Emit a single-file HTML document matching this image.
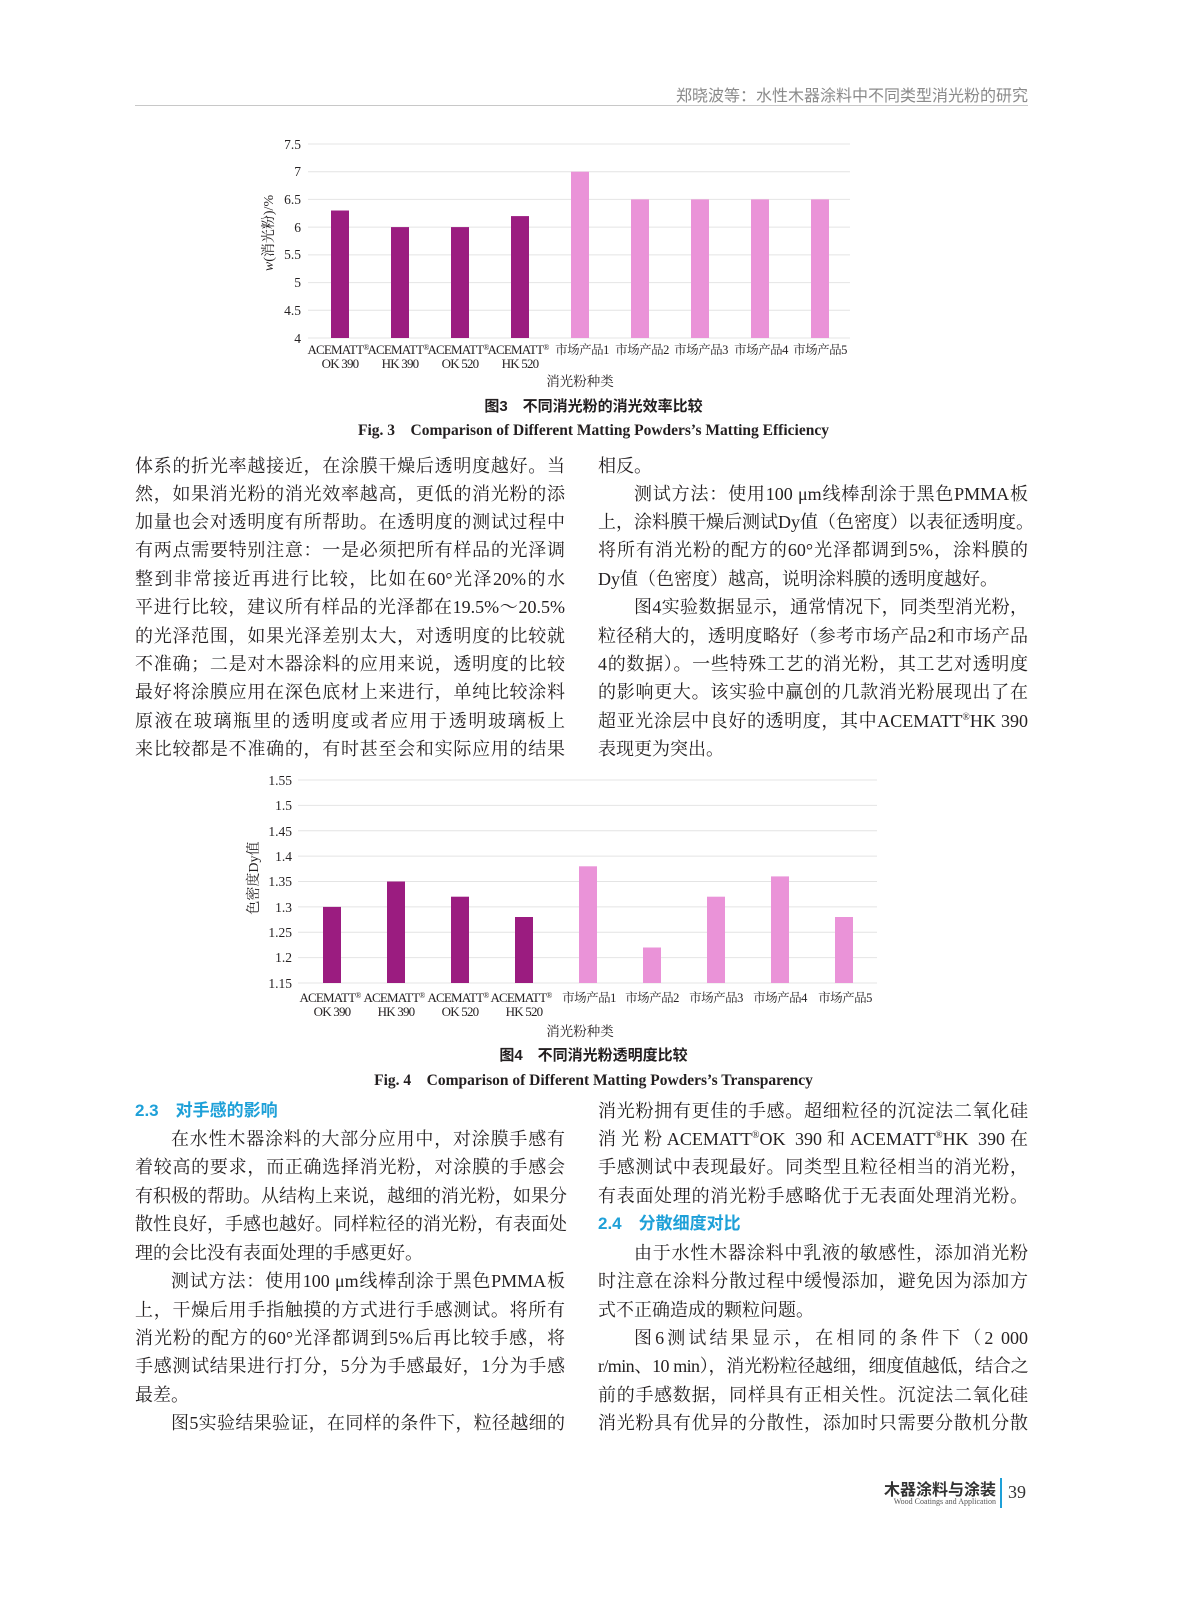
<!DOCTYPE html>
<html><head><meta charset="utf-8">
<style>
body{margin:0;background:#fff;}
#p{position:relative;width:1187px;height:1600px;overflow:hidden;background:#fff;}
.t{position:absolute;height:28px;line-height:28px;font-family:"Liberation Serif","Noto Serif CJK SC",serif;font-size:18px;color:#231f20;white-space:nowrap;text-align:justify;text-align-last:justify;}
.L{left:135px;width:430px;}
.R{left:598px;width:430px;}
.e{text-align-last:left;}
.i{text-indent:36px;}
.h{font-family:"Liberation Sans","Noto Sans CJK SC",sans-serif;font-weight:bold;color:#1ea0d8;text-align-last:left;font-size:17px;}
.c{position:absolute;left:0;width:1187px;text-align:center;color:#231f20;font-weight:bold;}
sup{font-size:10px;line-height:0;}
svg text{font-family:"Liberation Serif","Noto Serif CJK SC",serif;fill:#231f20;}
</style></head><body><div id="p">
<div style="position:absolute;right:159px;top:82px;font-family:'Liberation Sans','Noto Sans CJK SC',sans-serif;font-size:16px;color:#8a8a8a;">郑晓波等：水性木器涂料中不同类型消光粉的研究</div>
<div style="position:absolute;left:135px;top:105px;width:893px;height:1px;background:#c8c8c8;"></div>

<svg width="1187" height="1600" style="position:absolute;left:0;top:0">
<g stroke="#e4e4e4" stroke-width="1">
<line x1="308" x2="850" y1="144" y2="144"/><line x1="308" x2="850" y1="171.7" y2="171.7"/><line x1="308" x2="850" y1="199.4" y2="199.4"/><line x1="308" x2="850" y1="227.1" y2="227.1"/><line x1="308" x2="850" y1="254.9" y2="254.9"/><line x1="308" x2="850" y1="282.6" y2="282.6"/><line x1="308" x2="850" y1="310.3" y2="310.3"/><line x1="308" x2="850" y1="338" y2="338"/>
</g>
<g font-size="13.5" text-anchor="end">
<text x="301" y="149">7.5</text><text x="301" y="176">7</text><text x="301" y="204">6.5</text><text x="301" y="232">6</text><text x="301" y="259">5.5</text><text x="301" y="287">5</text><text x="301" y="315">4.5</text><text x="301" y="343">4</text>
</g>
<g fill="#9b1c80"><rect x="331" y="210.5" width="18" height="127.5"/><rect x="391" y="227.1" width="18" height="110.9"/><rect x="451" y="227.1" width="18" height="110.9"/><rect x="511" y="216.1" width="18" height="121.9"/></g>
<g fill="#ea93d8"><rect x="571" y="171.7" width="18" height="166.3"/><rect x="631" y="199.4" width="18" height="138.6"/><rect x="691" y="199.4" width="18" height="138.6"/><rect x="751" y="199.4" width="18" height="138.6"/><rect x="811" y="199.4" width="18" height="138.6"/></g>
<g font-size="13" text-anchor="middle" letter-spacing="-0.8">
<text x="338" y="354">ACEMATT<tspan font-size="8" dy="-4">®</tspan></text><text x="398" y="354">ACEMATT<tspan font-size="8" dy="-4">®</tspan></text><text x="458" y="354">ACEMATT<tspan font-size="8" dy="-4">®</tspan></text><text x="518" y="354">ACEMATT<tspan font-size="8" dy="-4">®</tspan></text>
<text x="340" y="368">OK 390</text><text x="400" y="368">HK 390</text><text x="460" y="368">OK 520</text><text x="520" y="368">HK 520</text>
</g>
<g font-size="12.5" text-anchor="middle" letter-spacing="-0.5">
<text x="582" y="354">市场产品1</text><text x="642" y="354">市场产品2</text><text x="701" y="354">市场产品3</text><text x="761" y="354">市场产品4</text><text x="820" y="354">市场产品5</text>
</g>
<text x="580" y="386" font-size="13.5" text-anchor="middle">消光粉种类</text>
<text transform="translate(273,233) rotate(-90)" font-size="14" text-anchor="middle"><tspan font-style="italic">w</tspan>(消光粉)/%</text>

<g stroke="#e4e4e4" stroke-width="1">
<line x1="298" x2="877" y1="780" y2="780"/><line x1="298" x2="877" y1="805.4" y2="805.4"/><line x1="298" x2="877" y1="830.8" y2="830.8"/><line x1="298" x2="877" y1="856.1" y2="856.1"/><line x1="298" x2="877" y1="881.5" y2="881.5"/><line x1="298" x2="877" y1="906.9" y2="906.9"/><line x1="298" x2="877" y1="932.3" y2="932.3"/><line x1="298" x2="877" y1="957.6" y2="957.6"/><line x1="298" x2="877" y1="983" y2="983"/>
</g>
<g font-size="13.5" text-anchor="end">
<text x="292" y="785">1.55</text><text x="292" y="810">1.5</text><text x="292" y="836">1.45</text><text x="292" y="861">1.4</text><text x="292" y="886">1.35</text><text x="292" y="912">1.3</text><text x="292" y="937">1.25</text><text x="292" y="962">1.2</text><text x="292" y="988">1.15</text>
</g>
<g fill="#9b1c80"><rect x="323" y="906.9" width="18" height="76.1"/><rect x="387" y="881.5" width="18" height="101.5"/><rect x="451" y="896.7" width="18" height="86.3"/><rect x="515" y="917" width="18" height="66"/></g>
<g fill="#ea93d8"><rect x="579" y="866.3" width="18" height="116.7"/><rect x="643" y="947.5" width="18" height="35.5"/><rect x="707" y="896.7" width="18" height="86.3"/><rect x="771" y="876.4" width="18" height="106.6"/><rect x="835" y="917" width="18" height="66"/></g>
<g font-size="13" text-anchor="middle" letter-spacing="-0.8">
<text x="330" y="1002">ACEMATT<tspan font-size="8" dy="-4">®</tspan></text><text x="394" y="1002">ACEMATT<tspan font-size="8" dy="-4">®</tspan></text><text x="458" y="1002">ACEMATT<tspan font-size="8" dy="-4">®</tspan></text><text x="521" y="1002">ACEMATT<tspan font-size="8" dy="-4">®</tspan></text>
<text x="332" y="1016">OK 390</text><text x="396" y="1016">HK 390</text><text x="460" y="1016">OK 520</text><text x="524" y="1016">HK 520</text>
</g>
<g font-size="12.5" text-anchor="middle" letter-spacing="-0.5">
<text x="589" y="1002">市场产品1</text><text x="652" y="1002">市场产品2</text><text x="716" y="1002">市场产品3</text><text x="780" y="1002">市场产品4</text><text x="845" y="1002">市场产品5</text>
</g>
<text x="580" y="1036" font-size="13.5" text-anchor="middle">消光粉种类</text>
<text transform="translate(258,878) rotate(-90)" font-size="14" text-anchor="middle">色密度Dy值</text>
</svg>

<div class="c" style="top:395px;font-family:'Liberation Sans','Noto Sans CJK SC',sans-serif;font-size:15px;">图3　不同消光粉的消光效率比较</div>
<div class="c" style="top:418px;font-family:'Liberation Serif',serif;font-size:15.5px;">Fig. 3　Comparison of Different Matting Powders’s Matting Efficiency</div>
<div class="c" style="top:1044px;font-family:'Liberation Sans','Noto Sans CJK SC',sans-serif;font-size:15px;">图4　不同消光粉透明度比较</div>
<div class="c" style="top:1068px;font-family:'Liberation Serif',serif;font-size:15.5px;">Fig. 4　Comparison of Different Matting Powders’s Transparency</div>

<div class="t L" style="top:452px">体系的折光率越接近，在涂膜干燥后透明度越好。当</div>
<div class="t L" style="top:480px">然，如果消光粉的消光效率越高，更低的消光粉的添</div>
<div class="t L" style="top:508px">加量也会对透明度有所帮助。在透明度的测试过程中</div>
<div class="t L" style="top:536px">有两点需要特别注意：一是必须把所有样品的光泽调</div>
<div class="t L" style="top:565px">整到非常接近再进行比较，比如在60°光泽20%的水</div>
<div class="t L" style="top:593px">平进行比较，建议所有样品的光泽都在19.5%～20.5%</div>
<div class="t L" style="top:622px">的光泽范围，如果光泽差别太大，对透明度的比较就</div>
<div class="t L" style="top:650px">不准确；二是对木器涂料的应用来说，透明度的比较</div>
<div class="t L" style="top:678px">最好将涂膜应用在深色底材上来进行，单纯比较涂料</div>
<div class="t L" style="top:707px">原液在玻璃瓶里的透明度或者应用于透明玻璃板上</div>
<div class="t L" style="top:735px">来比较都是不准确的，有时甚至会和实际应用的结果</div>

<div class="t R e" style="top:452px">相反。</div>
<div class="t R i" style="top:480px">测试方法：使用100 μm线棒刮涂于黑色PMMA板</div>
<div class="t R" style="top:508px">上，涂料膜干燥后测试Dy值（色密度）以表征透明度。</div>
<div class="t R" style="top:536px">将所有消光粉的配方的60°光泽都调到5%，涂料膜的</div>
<div class="t R e" style="top:565px">Dy值（色密度）越高，说明涂料膜的透明度越好。</div>
<div class="t R i" style="top:593px">图4实验数据显示，通常情况下，同类型消光粉，</div>
<div class="t R" style="top:622px">粒径稍大的，透明度略好（参考市场产品2和市场产品</div>
<div class="t R" style="top:650px">4的数据）。一些特殊工艺的消光粉，其工艺对透明度</div>
<div class="t R" style="top:678px">的影响更大。该实验中赢创的几款消光粉展现出了在</div>
<div class="t R" style="top:707px">超亚光涂层中良好的透明度，其中ACEMATT<sup>®</sup>HK 390</div>
<div class="t R e" style="top:735px">表现更为突出。</div>

<div class="t L h" style="top:1097px">2.3　对手感的影响</div>
<div class="t L i" style="top:1125px">在水性木器涂料的大部分应用中，对涂膜手感有</div>
<div class="t L" style="top:1153px">着较高的要求，而正确选择消光粉，对涂膜的手感会</div>
<div class="t L" style="top:1182px">有积极的帮助。从结构上来说，越细的消光粉，如果分</div>
<div class="t L" style="top:1210px">散性良好，手感也越好。同样粒径的消光粉，有表面处</div>
<div class="t L e" style="top:1239px">理的会比没有表面处理的手感更好。</div>
<div class="t L i" style="top:1267px">测试方法：使用100 μm线棒刮涂于黑色PMMA板</div>
<div class="t L" style="top:1296px">上，干燥后用手指触摸的方式进行手感测试。将所有</div>
<div class="t L" style="top:1324px">消光粉的配方的60°光泽都调到5%后再比较手感，将</div>
<div class="t L" style="top:1352px">手感测试结果进行打分，5分为手感最好，1分为手感</div>
<div class="t L e" style="top:1381px">最差。</div>
<div class="t L i" style="top:1409px">图5实验结果验证，在同样的条件下，粒径越细的</div>

<div class="t R" style="top:1097px">消光粉拥有更佳的手感。超细粒径的沉淀法二氧化硅</div>
<div class="t R" style="top:1125px">消光粉ACEMATT<sup>®</sup>OK 390和ACEMATT<sup>®</sup>HK 390在</div>
<div class="t R" style="top:1153px">手感测试中表现最好。同类型且粒径相当的消光粉，</div>
<div class="t R" style="top:1182px">有表面处理的消光粉手感略优于无表面处理消光粉。</div>
<div class="t R h" style="top:1210px">2.4　分散细度对比</div>
<div class="t R i" style="top:1239px">由于水性木器涂料中乳液的敏感性，添加消光粉</div>
<div class="t R" style="top:1267px">时注意在涂料分散过程中缓慢添加，避免因为添加方</div>
<div class="t R e" style="top:1296px">式不正确造成的颗粒问题。</div>
<div class="t R i" style="top:1324px">图6测试结果显示，在相同的条件下（2 000</div>
<div class="t R" style="top:1352px;letter-spacing:-0.6px">r/min、10 min），消光粉粒径越细，细度值越低，结合之</div>
<div class="t R" style="top:1381px">前的手感数据，同样具有正相关性。沉淀法二氧化硅</div>
<div class="t R" style="top:1409px">消光粉具有优异的分散性，添加时只需要分散机分散</div>

<div style="position:absolute;left:870px;top:1476px;width:126px;text-align:right;font-family:'Liberation Sans','Noto Sans CJK SC',sans-serif;font-weight:bold;font-size:16px;color:#333;">木器涂料与涂装</div>
<div style="position:absolute;left:850px;top:1497px;width:146px;text-align:right;font-family:'Liberation Serif',serif;font-size:8px;color:#555;">Wood Coatings and Application</div>
<div style="position:absolute;left:1000px;top:1478px;width:2px;height:30px;background:#1ea0d8;"></div>
<div style="position:absolute;left:1008px;top:1482px;font-family:'Liberation Serif',serif;font-size:18px;color:#333;">39</div>
</div></body></html>
